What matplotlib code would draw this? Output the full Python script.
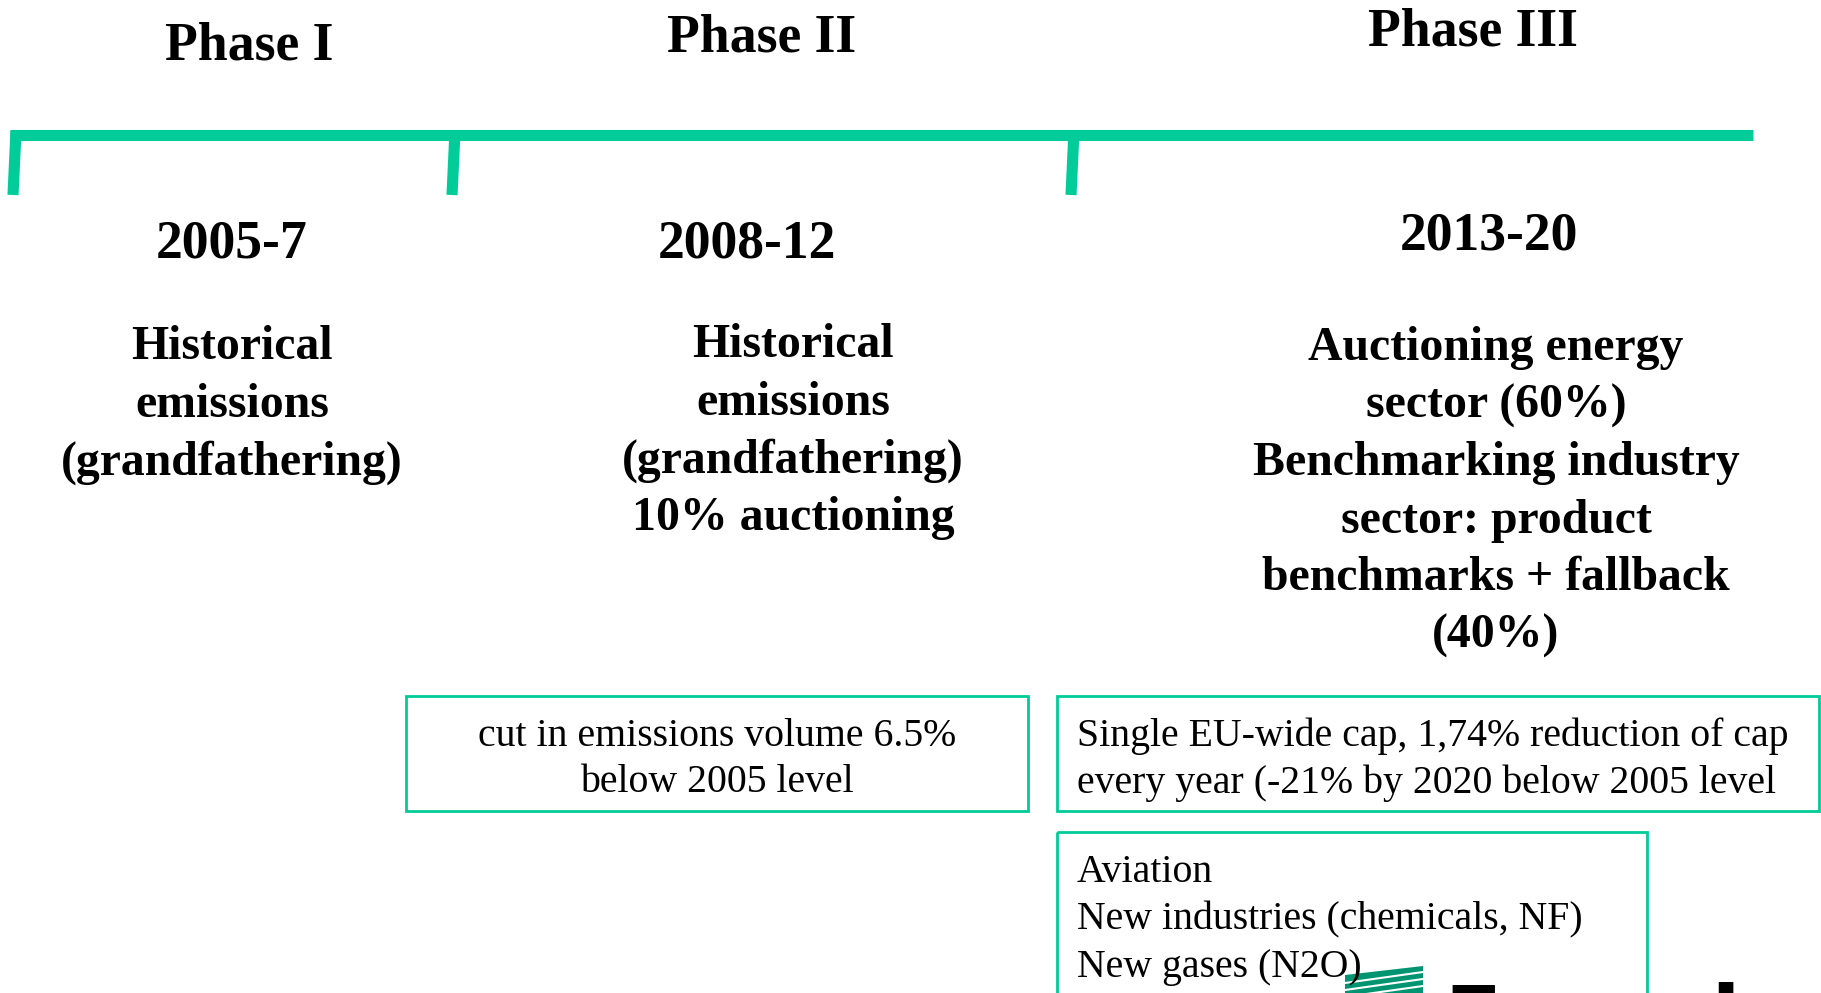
import matplotlib.pyplot as plt
from matplotlib.patches import Rectangle, Polygon

# Timeline content
phases = ['Phase I', 'Phase II', 'Phase III']
periods = ['2005-7', '2008-12', '2013-20']
allocation = [
    ['Historical', 'emissions', '(grandfathering)'],
    ['Historical', 'emissions', '(grandfathering)', '10% auctioning'],
    ['Auctioning energy', 'sector (60%)', 'Benchmarking industry',
     'sector: product', 'benchmarks + fallback', '(40%)'],
]
cap_box_1 = ['cut in emissions volume 6.5%', 'below 2005 level']
cap_box_2 = ['Single EU-wide cap, 1,74% reduction of cap',
             'every year (-21% by 2020 below 2005 level']
scope_box = ['Aviation', 'New industries (chemicals, NF)', 'New gases (N2O)']

green = '#00CC99'
serif = 'Liberation Serif'

fig = plt.figure(figsize=(18.21, 9.93), dpi=100)
ax = fig.add_axes([0, 0, 1, 1])
ax.set_xlim(0, 1821)
ax.set_ylim(993, 0)
ax.axis('off')

# timeline bar and phase ticks
ax.plot([10, 1753], [135, 135], color=green, lw=8, solid_capstyle='butt')
for x in [14, 453, 1072]:
    ax.plot([x + 2, x - 1], [131, 195], color=green, lw=8, solid_capstyle='butt')

# headings
phase_x = [249, 762, 1473]
phase_y = [47, 39, 32]
for name, x, y in zip(phases, phase_x, phase_y):
    ax.text(x, y, name, family=serif, weight='bold', fontsize=38.6,
            ha='center', va='center')

period_x = [232, 747, 1489]
period_y = [244, 244, 236]
for p, x, y in zip(periods, period_x, period_y):
    ax.text(x, y, p, family=serif, weight='bold', fontsize=38.6,
            ha='center', va='center')

alloc_x = [232, 793, 1496]
alloc_y0 = [347, 345, 348]
for lines, x, y0 in zip(allocation, alloc_x, alloc_y0):
    for i, line in enumerate(lines):
        ax.text(x, y0 + i * 57.6, line, family=serif, weight='bold',
                fontsize=34.4, ha='center', va='center')

# boxes
ax.add_patch(Rectangle((406, 696), 622, 115, fill=False, ec=green, lw=2))
ax.add_patch(Rectangle((1057, 696), 762, 115, fill=False, ec=green, lw=2))
ax.add_patch(Rectangle((1057, 832), 590, 200, fill=False, ec=green, lw=2,
                       clip_on=False))

for i, line in enumerate(cap_box_1):
    ax.text(717, 736 + i * 47, line, family=serif, fontsize=28.6,
            ha='center', va='center')
for i, line in enumerate(cap_box_2):
    ax.text(1077, 736 + i * 47, line, family=serif, fontsize=28.6,
            ha='left', va='center')
for i, line in enumerate(scope_box):
    ax.text(1077, 872 + i * 48, line, family=serif, fontsize=28.6,
            ha='left', va='center')

# logo, cut by the bottom edge as in the original slide
ax.add_patch(Polygon([[1345, 975], [1423, 966], [1423, 1000], [1345, 1000]],
                     closed=True, fc='#009570', ec='none'))
for k in range(3):
    ax.plot([1345, 1423], [983 + k * 7, 972 + k * 7], color='white', lw=1.5)
ax.text(1444, 982, 'Fraunhofer', family='DejaVu Sans', weight='bold',
        fontsize=60, ha='left', va='top')

fig.savefig('out.png', dpi=100)
